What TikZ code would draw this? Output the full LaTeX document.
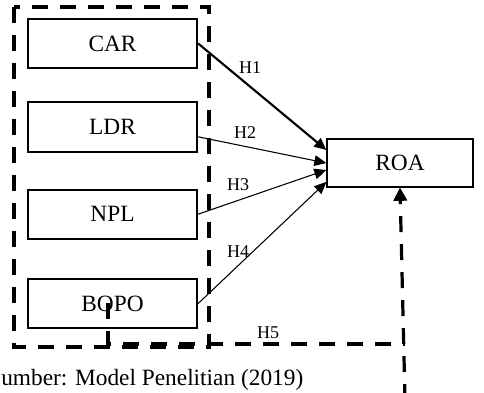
\documentclass[tikz,border=0pt]{standalone}
\usepackage{fontspec}
\setmainfont{Liberation Serif}
\usetikzlibrary{positioning,arrows.meta}

\begin{document}
\begin{tikzpicture}[
  x=0.75pt, y=-0.75pt,
  varbox/.style={draw, line width=1.5pt, minimum width=127pt, minimum height=37pt, inner sep=0pt, font=\fontsize{17.5}{20}\selectfont},
  link/.style={-{Triangle[length=9pt,width=8pt]}, line width=0.8pt},
  biglink/.style={link, line width=1.6pt},
  dashline/.style={line width=2.4pt, dash pattern=on 12pt off 9pt},
  hlabel/.style={font=\fontsize{13.5}{16}\selectfont, inner sep=0pt}
]
\useasboundingbox (0,0) rectangle (484,392);
% independent variables
\node[varbox] (car) at (112.5,43.5) {CAR};
\node[varbox, below=24pt of car] (ldr) {LDR};
\node[varbox, below=27pt of ldr] (npl) {NPL};
\node[varbox, below=28.5pt of npl] (bopo) {BOPO};
\draw[dashline] (14,7) rectangle (209,347);
% dependent variable
\node[varbox, minimum width=109pt, minimum height=36pt] (roa) at (400,162.5) {ROA};
\draw[biglink] (car.east) -- ([yshift=9.4pt]roa.west);
\draw[link] ([yshift=-7.5pt]ldr.east) -- ([yshift=-0.4pt]roa.west);
\draw[link] (npl.east) -- ([yshift=-5.6pt]roa.west);
\draw[link] (bopo.east) -- ([yshift=-14.6pt]roa.west);
\node[hlabel] (h1) at (250,68) {H1};
\node[hlabel] (h2) at (245,133) {H2};
\node[hlabel] (h3) at (238,185) {H3};
\node[hlabel] (h4) at (238,252) {H4};
% moderating path
\coordinate (bstart) at (108,303);
\coordinate (bend) at (405,344);
\coordinate (low) at (405,400);
\draw[dashline] (bstart) |- (bend);
\draw[dashline, -{Triangle[length=10pt,width=10pt]}] (low) -- (roa.south);
\node[hlabel] (h5) at (268,333) {H5};
\node[anchor=base west, inner sep=0pt, font=\fontsize{17.5}{20}\selectfont] (src) at (1,385) {umber: Model Penelitian (2019)};
\end{tikzpicture}
\end{document}
